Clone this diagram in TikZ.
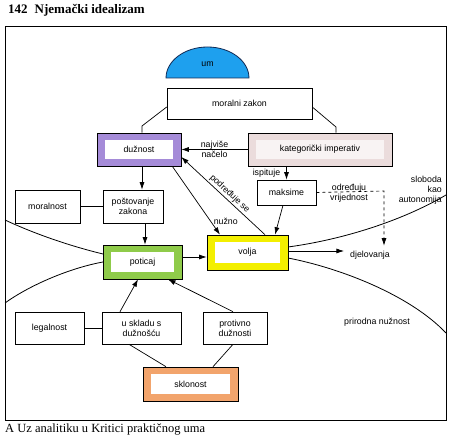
\documentclass[tikz,border=0pt]{standalone}
\usepackage{fontspec}
\setmainfont{Liberation Sans}
\newfontfamily\seriffam{Liberation Serif}
\usetikzlibrary{arrows.meta,calc}
\definecolor{umblue}{HTML}{1EA0EE}
\definecolor{umline}{HTML}{102A55}
\definecolor{duzpurple}{HTML}{A58BD8}
\definecolor{potgreen}{HTML}{8FCB4A}
\definecolor{voljayellow}{HTML}{F3EF00}
\definecolor{sklorange}{HTML}{F2A46C}
\definecolor{kipink}{HTML}{EBDCDC}
\definecolor{kiinner}{HTML}{F8F3F3}
\begin{document}
\begin{tikzpicture}[x=1pt,y=-1pt,
  every node/.style={font=\fontsize{8.8}{10}\selectfont, inner sep=0pt, align=center},
  wh/.style 2 args={minimum width=#1pt, minimum height=#2pt},
  box/.style={draw, line width=0.6pt, fill=white},
  band/.style={draw, line width=0.6pt, fill=#1,
    path picture={\fill[white] ([shift={(8pt,-7pt)}]path picture bounding box.north west)
      rectangle ([shift={(-8pt,7pt)}]path picture bounding box.south east);}},
  kiband/.style={draw, line width=0.6pt, fill=kipink,
    path picture={\fill[kiinner] ([shift={(8pt,-7pt)}]path picture bounding box.north west)
      rectangle ([shift={(-8pt,7pt)}]path picture bounding box.south east);}},
  arr/.style={-{Latex[length=7.5pt,width=5pt]}, line width=0.7pt},
  link/.style={line width=0.7pt},
  curve/.style={line width=0.8pt},
  titlefont/.style={font=\seriffam\bfseries\fontsize{13}{15}\selectfont},
  captionfont/.style={font=\seriffam\fontsize{12.5}{14}\selectfont},
]
\useasboundingbox (0,0) rectangle (451,438);
\fill[white] (0,0) rectangle (451,438);

% title and caption
\node[titlefont, anchor=base west] (title) at (8,13.5) {142\hspace{7pt}Njemački idealizam};
\node[captionfont, anchor=base west] (caption) at (5,433) {A Uz analitiku u Kritici praktičnog uma};

% frame
\draw[line width=0.9pt] (5,26) rectangle (446,420);

% region curves
\draw[curve] (103,254) .. controls (70,246) and (35,234) .. (5,220);
\draw[curve] (103,262) .. controls (70,268) and (30,285) .. (5,303);
\draw[curve] (288,247) .. controls (340,240) and (400,222) .. (446,195);
\draw[curve] (288,258) .. controls (340,268) and (410,295) .. (446,333);

% um
\path[draw=umline, fill=umblue, line width=0.8pt] (166,78) .. controls (166,60.9) and (184.6,47) .. (207.5,47)
  .. controls (230.4,47) and (249,60.9) .. (249,78) -- cycle;
\node (um) at (207.5,64) {um};

% boxes
\node[box, wh={145}{31}] (mz) at (239.5,103.5) {moralni zakon};
\node[band=duzpurple, wh={84}{33}] (duz) at (139,149.5) {dužnost};
\node[kiband, wh={144}{33}] (ki) at (320,149.5) {kategorički imperativ};
\node[box, wh={59}{25}] (maks) at (286.5,192.5) {maksime};
\node[box, wh={65}{33}] (moral) at (47.5,206.5) {moralnost};
\node[box, wh={60}{33}] (post) at (133,206.5) {poštovanje\\zakona};
\node[band=voljayellow, wh={81}{35}] (volja) at (247.5,252.5) {volja};
\node[band=potgreen, wh={79}{34}] (pot) at (142.5,262) {poticaj};
\node[box, wh={69}{32}] (legal) at (49.5,328) {legalnost};
\node[box, wh={79}{32}] (uskl) at (141.5,328) {u skladu s\\dužnošću};
\node[box, wh={64}{32}] (prot) at (235,328) {protivno\\dužnosti};
\node[band=sklorange, wh={95}{34}] (skl) at (190.5,384) {sklonost};

% free texts
\node (djel) at (370,255) {djelovanja};
\node[align=right, anchor=east] (slob) at (442,190) {sloboda\\kao\\autonomija};
\node (prir) at (377,322) {prirodna nužnost};

% connectors
\draw[link] ([yshift=-3.5pt]mz.west) -- (142,126) -- ([xshift=3pt]duz.north);
\draw[link] ([yshift=-3.5pt]mz.east) -- (336,127) -- ([xshift=16pt]ki.north);
\draw[arr] (ki.west) -- node[midway]{najviše\\načelo} (duz.east);
\draw[arr] (maks.north |- ki.south) -- node[midway, left=6pt]{ispituje} (maks.north);
\draw[arr] ([xshift=-3.5pt]maks.south) -- ([xshift=27.5pt]volja.north);
\draw[arr] ([xshift=-9pt]duz.south east) -- node[pos=0.8, right=3pt]{nužno} ([xshift=-27.5pt]volja.north);
\draw[arr] ([xshift=17.5pt]volja.north) -- node[pos=0.47, sloped, above=1.5pt]{podređuje se} ([yshift=-7.5pt]duz.east);
\draw[arr] ([xshift=3pt]duz.south) -- ([xshift=9pt]post.north);
\draw[arr] ([xshift=12pt]post.south) -- ([xshift=2.5pt]pot.north);
\draw[link] (moral.east) -- (post.west);
\draw[arr] ([yshift=5pt]pot.east) -- ([yshift=5pt]pot.east -| volja.west);
\draw[arr] ([yshift=1.5pt]volja.east) -- ([xshift=-6pt,yshift=1.5pt]volja.east -| djel.west);
\coordinate (dcorner) at (384,191);
\draw[arr, dashed] (maks.east) -- (dcorner) -- ([xshift=14pt,yshift=5pt]djel.north);
\node (odr) at (349,193) {određuju\\vrijednost};
\draw[arr] ([xshift=-21.5pt]uskl.north) -- ([xshift=-4.5pt]pot.south);
\draw[arr] ([xshift=-2pt]prot.north) -- ([xshift=25.5pt]pot.south);
\draw[link] (legal.east) -- (uskl.west);
\draw[link] ([xshift=-24.5pt]skl.north) -- ([xshift=-12.5pt]uskl.south);
\draw[link] ([xshift=22.5pt]skl.north) -- ([xshift=-2pt]prot.south);
\end{tikzpicture}
\end{document}
